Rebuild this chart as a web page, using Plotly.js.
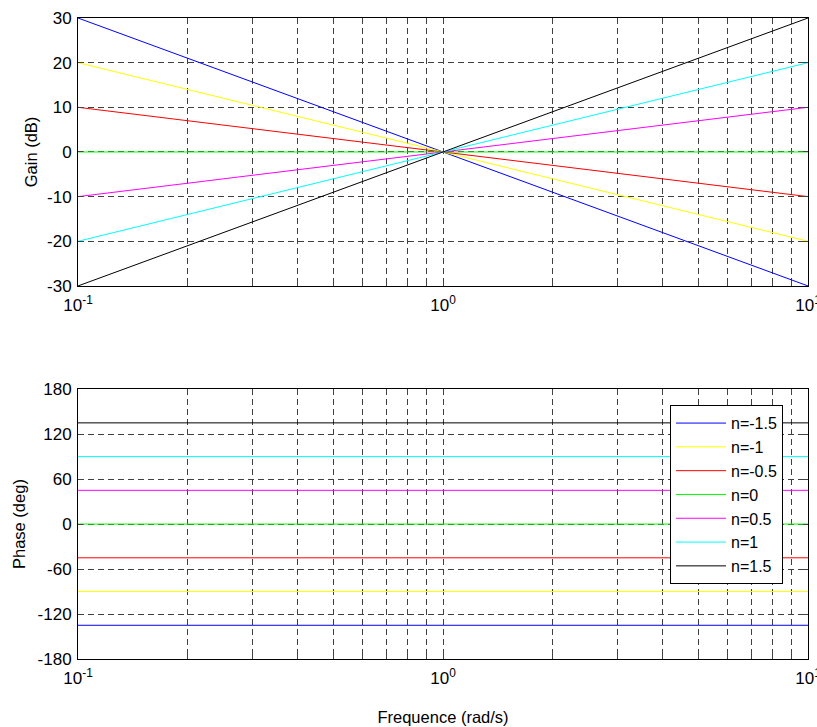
<!DOCTYPE html>
<html>
<head>
<meta charset="utf-8">
<script src="https://cdn.plot.ly/plotly-3.0.1.min.js"></script>
<style>html,body{margin:0;padding:0;background:#fff;}#chart{width:817px;height:727px;}</style>
</head>
<body>
<div id="chart"></div>
<script>
// Data
const names = ["n=-1.5", "n=-1", "n=-0.5", "n=0", "n=0.5", "n=1", "n=1.5"];
const colors = ["#0000ff", "#ffff00", "#ff0000", "#00ff00", "#ff00ff", "#00ffff", "#000000"];
const freq = [0.1, 1, 10];
const gainNm15 = [30, 0, -30];
const gainNm1 = [20, 0, -20];
const gainNm05 = [10, 0, -10];
const gainN0 = [0, 0, 0];
const gainN05 = [-10, 0, 10];
const gainN1 = [-20, 0, 20];
const gainN15 = [-30, 0, 30];
const phaseNm15 = [-135, -135, -135];
const phaseNm1 = [-90, -90, -90];
const phaseNm05 = [-45, -45, -45];
const phaseN0 = [0, 0, 0];
const phaseN05 = [45, 45, 45];
const phaseN1 = [90, 90, 90];
const phaseN15 = [135, 135, 135];
const gains = [gainNm15, gainNm1, gainNm05, gainN0, gainN05, gainN1, gainN15];
const phases = [phaseNm15, phaseNm1, phaseNm05, phaseN0, phaseN05, phaseN1, phaseN15];
const gainTicks = [-30, -20, -10, 0, 10, 20, 30];
const gainTickText = ["-30", "-20", "-10", "0", "10", "20", "30"];
const phaseTicks = [-180, -120, -60, 0, 60, 120, 180];
const phaseTickText = ["-180", "-120", "-60", "0", "60", "120", "180"];
const decadeLabels = ["10<sup>-1</sup>", "10<sup>0</sup>", "10<sup>1</sup>"];

const xTickVals = [];
const xTickText = [];
[0.1, 1].forEach((d, di) => { for (let k = 1; k <= 9; k++) { xTickVals.push(d * k); xTickText.push(k === 1 ? decadeLabels[di] : ""); } });
xTickVals.push(10); xTickText.push(decadeLabels[2]);

const traces = [];
names.forEach((n, i) => {
  traces.push({x: freq, y: gains[i], type: 'scatter', mode: 'lines', name: n, line: {color: colors[i], width: 1}, xaxis: 'x', yaxis: 'y', showlegend: false});
});
names.forEach((n, i) => {
  traces.push({x: freq, y: phases[i], type: 'scatter', mode: 'lines', name: n, line: {color: colors[i], width: 1}, xaxis: 'x2', yaxis: 'y2', showlegend: true});
});

const fam = 'Liberation Sans, Arial, sans-serif';
const tickfont = {family: fam, size: 17, color: '#000'};
const titlefont = {family: fam, size: 16.5, color: '#000'};
const gridc = '#404040';
function xax(anchor) {
  return {type: 'log', range: [-1, 1], tickvals: xTickVals, ticktext: xTickText, ticks: 'inside', ticklen: 5,
    showgrid: true, gridcolor: gridc, griddash: '6px,4px', gridwidth: 1, showline: true, linecolor: '#000', linewidth: 1,
    mirror: 'allticks', zeroline: false, anchor: anchor, tickfont: tickfont, tickangle: 0,
    ticklabeloverflow: 'allow', ticklabelstandoff: 4};
}
function yax(anchor, domain, range, ticks, ticktext, title, standoff) {
  return {range: range, tickvals: ticks, ticktext: ticktext, domain: domain, anchor: anchor, ticks: 'inside', ticklen: 5,
    showgrid: true, gridcolor: gridc, griddash: '6px,4px', gridwidth: 1, showline: true, linecolor: '#000', linewidth: 1,
    mirror: 'allticks', zeroline: false, tickfont: tickfont, ticklabelstandoff: 2,
    title: {text: title, font: titlefont, standoff: standoff}};
}

const layout = {
  width: 817, height: 727,
  margin: {l: 78, r: 9, t: 18, b: 68},
  paper_bgcolor: '#fff', plot_bgcolor: '#fff',
  font: tickfont,
  xaxis: xax('y'),
  yaxis: yax('x', [0.582, 1], [-30, 30], gainTicks, gainTickText, 'Gain (dB)', 5),
  xaxis2: Object.assign(xax('y2'), {title: {text: 'Frequence (rad/s)', font: titlefont, standoff: 24}}),
  yaxis2: yax('x2', [0, 0.421], [-180, 180], phaseTicks, phaseTickText, 'Phase (deg)', 7),
  showlegend: true,
  legend: {x: 0.811, y: 0.396, xanchor: 'left', yanchor: 'top', bgcolor: '#fff', bordercolor: '#000', borderwidth: 1,
    font: {family: fam, size: 16, color: '#000'}, tracegroupgap: 0, itemwidth: 50}
};

Plotly.newPlot('chart', traces, layout, {displayModeBar: false, staticPlot: true});
</script>
</body>
</html>
